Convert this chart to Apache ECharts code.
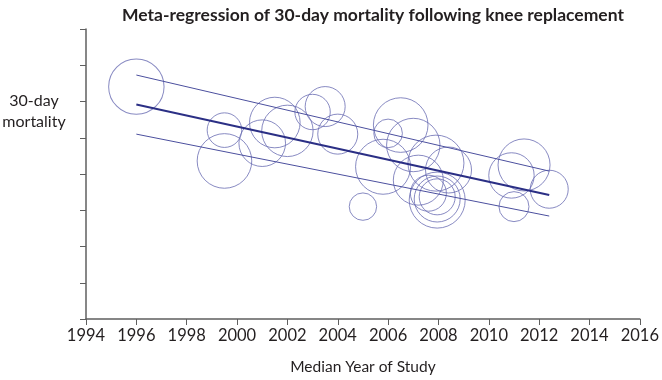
<!DOCTYPE html>
<html>
<head>
<meta charset="utf-8">
<script src="https://cdn.jsdelivr.net/npm/echarts@6/dist/echarts.min.js"></script>
<style>
  html, body { margin: 0; padding: 0; background: #fff; }
  #chart { width: 662px; height: 380px; }
</style>
</head>
<body>
<div id="chart"></div>
<script>
// study points: median year, 30-day mortality (axis units), study weight (bubble radius)
const studyYears = [1996.0, 1999.5, 1999.5, 2001.0, 2001.5, 2002.0, 2003.0, 2003.5, 2004.0, 2005.0,
  2006.5, 2006.0, 2007.0, 2005.8, 2007.9, 2008.4, 2007.2, 2007.6, 2007.95, 2007.95, 2007.95,
  2011.4, 2010.9, 2012.4, 2011.0];
const mortality = [6.41, 5.21, 4.36, 4.85, 5.42, 5.19, 5.71, 5.86, 5.10, 3.10,
  5.35, 5.12, 4.80, 4.20, 4.30, 4.11, 3.83, 3.47, 3.37, 3.31, 3.28,
  4.25, 3.96, 3.58, 3.10];
const weights = [27.7, 17.3, 27.3, 23.3, 25.3, 25.7, 17.7, 20, 20, 13.7,
  27.3, 14.3, 26.7, 27.5, 28, 23, 25, 18, 18, 23, 28,
  26, 22.7, 19, 15];

// fitted regression line and its bounds
const fitYears = [1996, 2012.4];
const fitMid = [5.92, 3.42];
const fitUpper = [6.73, 4.08];
const fitLower = [5.10, 2.84];

const xTicks = { min: 1994, max: 2016, step: 2 };

const font = "Lato, 'Open Sans', sans-serif";
const circleColor = "#6a6db3";
const lineColor = "#2b2f85";

const chart = echarts.init(document.getElementById("chart"));

const pts = studyYears.map((y, i) => [y, mortality[i], weights[i]]);
const pair = (arr) => fitYears.map((y, i) => [y, arr[i]]);

chart.setOption({
  animation: false,
  title: {
    text: "Meta-regression of 30-day mortality following knee replacement",
    left: 368,
    textAlign: "center",
    top: 1,
    textStyle: { fontFamily: font, fontWeight: "bold", fontSize: 17.5, color: "#231f20" },
  },
  graphic: [
    {
      type: "text",
      x: 34,
      y: 90,
      style: {
        text: "30-day\nmortality",
        font: "16px " + font,
        fill: "#231f20",
        align: "center",
        lineHeight: 21,
      },
    },
  ],
  grid: { left: 86, right: 16, top: 29, bottom: 61 },
  xAxis: {
    type: "value",
    min: xTicks.min,
    max: xTicks.max,
    interval: xTicks.step,
    name: "Median Year of Study",
    nameLocation: "middle",
    nameGap: 40,
    nameTextStyle: { fontFamily: font, fontSize: 15.5, color: "#231f20" },
    axisLine: { show: true, lineStyle: { color: "#5f5f5f", width: 1.5 } },
    axisTick: { show: true, length: 6, lineStyle: { color: "#5f5f5f" } },
    axisLabel: {
      fontFamily: font, fontSize: 16.5, color: "#231f20", margin: 8,
      formatter: (v) => String(v),
    },
    splitLine: { show: false },
  },
  yAxis: {
    type: "value",
    min: 0,
    max: 8,
    interval: 1,
    axisLine: { show: true, lineStyle: { color: "#5f5f5f", width: 1.5 } },
    axisTick: { show: true, length: 6, lineStyle: { color: "#5f5f5f" } },
    axisLabel: { show: false },
    splitLine: { show: false },
  },
  series: [
    {
      type: "scatter",
      data: pts,
      symbol: "circle",
      symbolSize: (d) => d[2] * 2,
      itemStyle: { color: "rgba(0,0,0,0)", borderColor: circleColor, borderWidth: 1 },
      z: 2,
    },
    {
      type: "line",
      data: pair(fitUpper),
      symbol: "none",
      lineStyle: { color: "#4b4f9e", width: 1 },
      z: 3,
    },
    {
      type: "line",
      data: pair(fitLower),
      symbol: "none",
      lineStyle: { color: "#4b4f9e", width: 1 },
      z: 3,
    },
    {
      type: "line",
      data: pair(fitMid),
      symbol: "none",
      lineStyle: { color: lineColor, width: 2 },
      z: 4,
    },
  ],
});
</script>
</body>
</html>
